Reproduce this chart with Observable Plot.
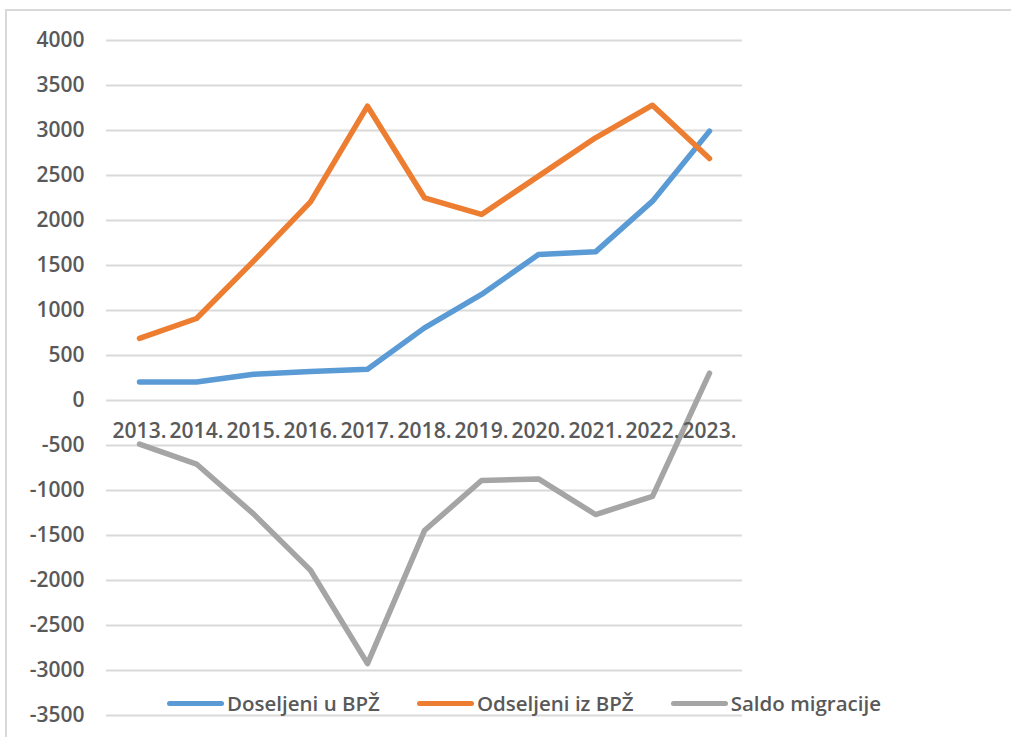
<!DOCTYPE html>
<html>
<head>
<meta charset="utf-8">
<script src="https://cdn.jsdelivr.net/npm/d3@7"></script>
<script src="https://cdn.jsdelivr.net/npm/@observablehq/plot@0.6"></script>
<style>
  html, body { margin: 0; padding: 0; background: #fff; overflow: hidden; }
  #wrap { position: relative; width: 1011px; height: 737px; }
  #frame { position: absolute; left: 5px; top: 9px; width: 1100px; height: 800px; border: 2px solid #d9d9d9; box-sizing: border-box; pointer-events: none; }
  #chart { position: absolute; left: 0; top: 0; }
  #legend { position: absolute; left: 167px; top: 689px; display: flex; gap: 37px; align-items: center;
            font-family: "Open Sans", sans-serif; font-weight: 600; font-size: 20.5px; color: #595959; }
  .item { display: flex; align-items: center; gap: 3px; }
  .sw { width: 57px; height: 5px; border-radius: 3px; }
</style>
</head>
<body>
<div id="wrap">
  <div id="frame"></div>
  <div id="chart"></div>
  <div id="legend"></div>
</div>
<script>
const years = ["2013.", "2014.", "2015.", "2016.", "2017.", "2018.", "2019.", "2020.", "2021.", "2022.", "2023."];
const doseljeni = [205, 205, 291, 321, 347, 807, 1178, 1622, 1652, 2215, 2993];
const odseljeni = [690, 911, 1548, 2207, 3270, 2252, 2067, 2493, 2919, 3281, 2689];
const saldo = [-485, -706, -1260, -1886, -2923, -1445, -889, -871, -1267, -1066, 304];
const seriesNames = ["Doseljeni u BPŽ", "Odseljeni iz BPŽ", "Saldo migracije"];
const seriesColors = ["#5B9BD5", "#ED7D31", "#A5A5A5"];
const yTicks = d3.range(-3500, 4001, 500);

const data = [];
[doseljeni, odseljeni, saldo].forEach((vals, s) => {
  vals.forEach((v, i) => data.push({ year: years[i], value: v, series: seriesNames[s] }));
});

const font = "'Open Sans', sans-serif";

const chart = Plot.plot({
  width: 1011,
  height: 737,
  marginLeft: 106,
  marginRight: 269,
  marginTop: 40,
  marginBottom: 22,
  style: { fontFamily: font, background: "transparent" },
  x: { type: "point", domain: years, padding: 0.5, axis: null },
  y: { domain: [-3500, 4000], axis: null },
  color: { domain: seriesNames, range: seriesColors },
  marks: [
    Plot.gridY(yTicks, { stroke: "#d9d9d9", strokeOpacity: 1, strokeWidth: 2 }),
    Plot.axisY(yTicks, {
      tickSize: 0, tickPadding: 22, tickFormat: d => String(d), label: null,
      fontSize: 21, fontWeight: 600, fill: "#595959", fontFamily: font
    }),
    Plot.line(data, {
      x: "year", y: "value", z: "series", stroke: "series",
      strokeWidth: 5.5, strokeLinecap: "round", strokeLinejoin: "round"
    }),
    Plot.text(years, {
      x: d => d, y: () => 0, dy: 31, text: d => d,
      fontSize: 21, fontWeight: 600, fill: "#595959", fontFamily: font
    })
  ]
});
document.getElementById("chart").appendChild(chart);

const legend = document.getElementById("legend");
seriesNames.forEach((name, i) => {
  const item = document.createElement("div");
  item.className = "item";
  const sw = document.createElement("div");
  sw.className = "sw";
  sw.style.background = seriesColors[i];
  const t = document.createElement("span");
  t.textContent = name;
  item.appendChild(sw);
  item.appendChild(t);
  legend.appendChild(item);
});
</script>
</body>
</html>
